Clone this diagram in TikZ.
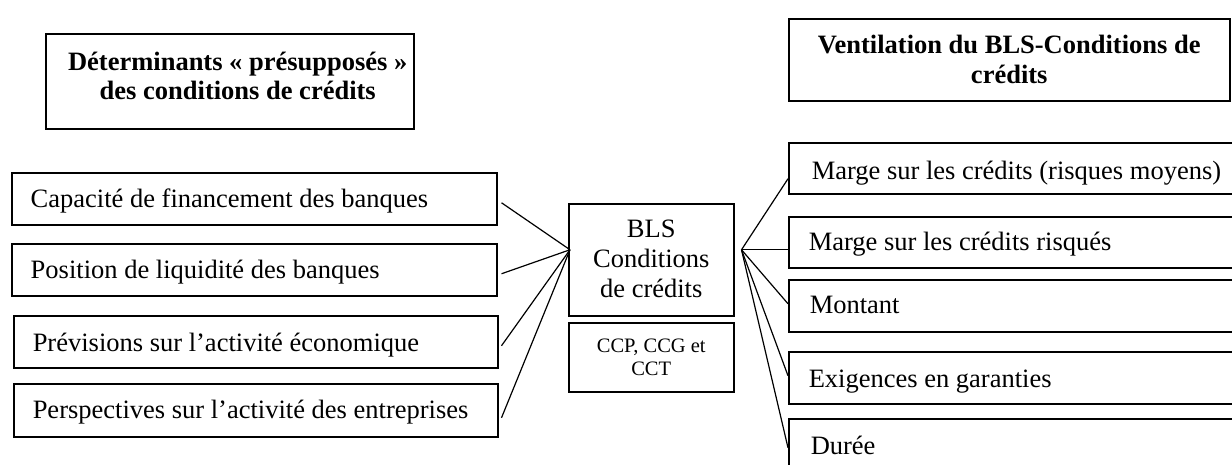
\documentclass[tikz,border=0pt]{standalone}
\usepackage{fontspec}
\setmainfont{Liberation Serif}
\usetikzlibrary{calc}
\newcommand\bodyf{\fontsize{26.5}{30}\selectfont}
\newcommand\headf{\fontsize{26.5}{29.5}\selectfont\bfseries}
\newcommand\smallf{\fontsize{20.5}{22.6}\selectfont}
\tikzset{
  box/.style={draw, line width=1.5pt, inner sep=0pt, anchor=north west, fill=white},
  conn/.style={line width=1.2pt},
}
\begin{document}
\begin{tikzpicture}[x=1pt,y=-1pt]
\useasboundingbox (0,0) rectangle (1232,464);
\fill[white] (0,0) rectangle (1232,464);
\clip (0,0) rectangle (1232,464);
% headers
\node[box,font=\headf] (hl) at (45,33) {\parbox[c][95pt][t]{368pt}{\centering\rule{0pt}{36.5pt}\hspace*{16pt}Déterminants «~présupposés~»\\\hspace*{16pt}des conditions de crédits}};
\node[box,font=\headf] (hr) at (788,18) {\parbox[c][82pt][t]{441pt}{\centering\rule{0pt}{35pt}Ventilation du BLS-Conditions de\\crédits}};
% left boxes
\node[box,font=\bodyf] (l1) at (11,172) {\parbox[c][52pt][t]{485pt}{\hspace*{19pt}\rule{0pt}{35pt}Capacité de financement des banques}};
\node[box,font=\bodyf] (l2) at (11,243) {\parbox[c][52pt][t]{485pt}{\hspace*{19pt}\rule{0pt}{35pt}Position de liquidité des banques}};
\node[box,font=\bodyf] (l3) at (13,315) {\parbox[c][52pt][t]{484pt}{\hspace*{19pt}\rule{0pt}{35.5pt}Prévisions sur l’activité économique}};
\node[box,font=\bodyf] (l4) at (13,383) {\parbox[c][53pt][t]{484pt}{\hspace*{19pt}\rule{0pt}{35pt}Perspectives sur l’activité des entreprises}};
% center
\node[box,font=\bodyf] (bls) at (568,203) {\parbox[c][112pt][t]{165pt}{\centering\rule{0pt}{33.7pt}BLS\\Conditions\\de crédits}};
\node[box,font=\smallf] (ccp) at (568,322) {\parbox[c][69pt][t]{165pt}{\centering\rule{0pt}{29.7pt}CCP, CCG et\\CCT}};
% right boxes
\node[box,font=\bodyf] (r1) at (788,142) {\parbox[c][51pt][t]{462pt}{\hspace*{23pt}\rule{0pt}{36.5pt}Marge sur les crédits (risques moyens)}};
\node[box,font=\bodyf] (r2) at (788,216) {\parbox[c][51pt][t]{462pt}{\hspace*{20pt}\rule{0pt}{34pt}Marge sur les crédits risqués}};
\node[box,font=\bodyf] (r3) at (788,279) {\parbox[c][52pt][t]{462pt}{\hspace*{21pt}\rule{0pt}{34pt}Montant}};
\node[box,font=\bodyf] (r4) at (788,351) {\parbox[c][52pt][t]{462pt}{\hspace*{20pt}\rule{0pt}{35.5pt}Exigences en garanties}};
\node[box,font=\bodyf] (r5) at (788,418) {\parbox[c][54pt][t]{462pt}{\hspace*{22pt}\rule{0pt}{36pt}Durée}};
% hubs
\coordinate (hubl) at ($(bls.west)+(2,-10)$);
\coordinate (hubr) at ($(bls.east)+(7,-10)$);
% connectors
\draw[conn] ($(l1.east)+(4,4)$) -- (hubl);
\draw[conn] ($(l2.east)+(4,4)$) -- (hubl);
\draw[conn] ($(l3.east)+(3,4)$) -- (hubl);
\draw[conn] ($(l4.east)+(3,7.5)$) -- (hubl);
\draw[conn] (hubr) -- ($(r1.west)+(0,10.5)$);
\draw[conn] (hubr) -- ($(r2.west)+(0,7.5)$);
\draw[conn] (hubr) -- ($(r3.west)+(0,-2)$);
\draw[conn] (hubr) -- ($(r4.west)+(0,-2)$);
\draw[conn] (hubr) -- ($(r5.west)+(0,2)$);
\end{tikzpicture}
\end{document}
